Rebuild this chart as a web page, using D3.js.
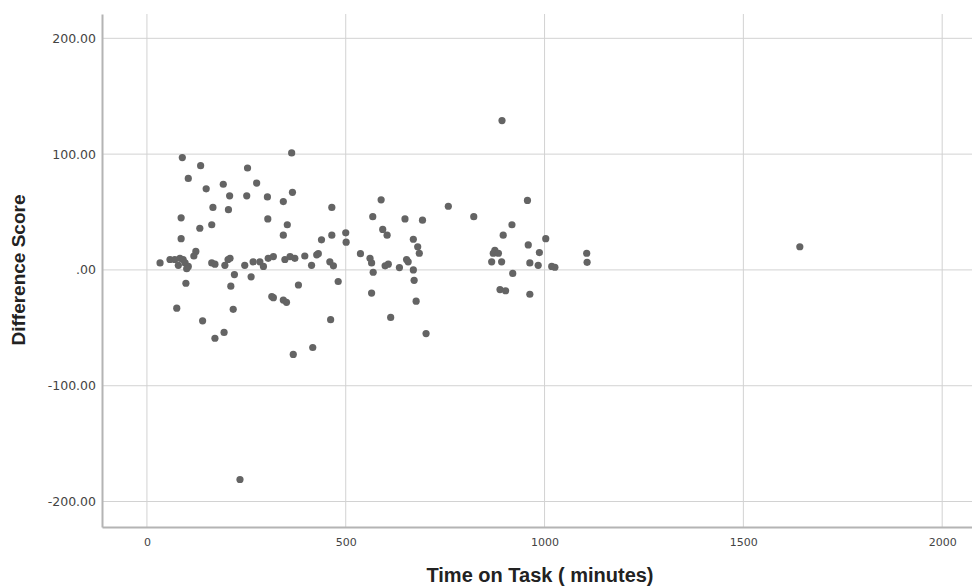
<!DOCTYPE html>
<html>
<head>
<meta charset="utf-8">
<script src="https://cdn.jsdelivr.net/npm/d3@7"></script>
<style>
  body { margin: 0; background: #fff; }
  svg { display: block; font-family: "Liberation Sans", Arial, sans-serif; }
</style>
</head>
<body>
<svg id="chart" width="972" height="586"></svg>
<script>
// time on task (minutes) and difference score
var minutes = [
  89, 364, 135, 253, 104, 192, 276, 149, 366, 208, 251, 303, 343, 166, 205, 465, 86, 304, 163, 353,
  133, 343, 86, 439, 465, 500, 501, 123, 118,
  33, 58, 70, 83, 91, 96, 104, 100, 79, 98, 163, 171, 196, 204, 209, 220, 211, 246, 262, 267, 284,
  293, 305, 318, 314, 347, 360, 372, 397, 414, 427, 431, 460, 469, 381, 481, 537, 561, 565, 569, 599,
  607, 565,
  75, 318, 343, 351, 217, 140, 462, 194, 171, 417, 368, 234,
  589, 568, 649, 693, 758, 822, 593, 604, 670, 681, 685, 635, 653, 657, 670, 672, 677, 613, 702,
  875, 871, 884, 867, 892, 896, 918, 920, 957, 959, 987, 1003, 963, 984, 1018, 1026, 888, 902, 963,
  893, 1106, 1107, 1642
];
var scores = [
  97, 101, 90, 88, 79, 74, 75, 70, 67, 64, 64, 63, 59, 54, 52, 54, 45, 44, 39, 39,
  36, 30, 27, 26, 30, 32, 24, 16, 12,
  6, 9, 9, 10, 9, 6, 3, 1, 4, -11.5, 6, 5, 4, 9, 10, -4, -14, 4, -6, 7, 7,
  3, 10, 11.5, -23, 9, 11.5, 10, 12, 4, 13, 14, 7, 3.5, -13, -10, 14, 10, 6, -2, 3.5,
  5, -20,
  -33, -24, -26, -28, -34, -44, -43, -54, -59, -67, -73, -181,
  60.5, 46, 44, 43, 55, 46, 35, 30, 26.5, 20, 14.4, 2, 9, 7, 0, -9, -27, -41, -55,
  17, 14.4, 14.4, 7, 7, 30, 39, -3, 60, 21.6, 15, 27, 6, 4, 3, 2.3, -17, -18, -21,
  129, 14.4, 6.6, 20
];
var xTicks = [0, 500, 1000, 1500, 2000];
var yTicks = [200, 100, 0, -100, -200];
var yTickLabels = ["200.00", "100.00", ".00", "-100.00", "-200.00"];

var points = minutes.map(function(m, i) { return { x: m, y: scores[i] }; });

var svg = d3.select("#chart");
var plotLeft = 102, plotRight = 972, plotTop = 14, plotBottom = 527;

var x = d3.scaleLinear().domain([-113, 2075]).range([plotLeft, plotRight]);
var y = d3.scaleLinear().domain([-222, 221]).range([plotBottom, plotTop]);

// gridlines
svg.append("g").selectAll("line.vg")
  .data(xTicks)
  .enter().append("line")
  .attr("class", "vg")
  .attr("x1", function(d) { return x(d); })
  .attr("x2", function(d) { return x(d); })
  .attr("y1", plotTop)
  .attr("y2", plotBottom)
  .attr("stroke", "#d2d2d2")
  .attr("stroke-width", 1);

svg.append("g").selectAll("line.hg")
  .data(yTicks)
  .enter().append("line")
  .attr("class", "hg")
  .attr("x1", plotLeft)
  .attr("x2", plotRight)
  .attr("y1", function(d) { return y(d); })
  .attr("y2", function(d) { return y(d); })
  .attr("stroke", "#d2d2d2")
  .attr("stroke-width", 1);

// axes
var xAxis = d3.axisBottom(x).tickValues(xTicks).tickSize(0).tickPadding(11).tickFormat(d3.format("d"));
var yAxis = d3.axisLeft(y).tickValues(yTicks).tickSize(0).tickPadding(6)
  .tickFormat(function(d, i) { return yTickLabels[i]; });

var gx = svg.append("g").attr("transform", "translate(0," + plotBottom + ")").call(xAxis);
var gy = svg.append("g").attr("transform", "translate(" + plotLeft + ",0)").call(yAxis);

gx.select(".domain").attr("stroke", "#b4b4b4").attr("stroke-width", 2);
gy.select(".domain").attr("stroke", "#b4b4b4").attr("stroke-width", 2);
gx.selectAll(".tick text").attr("fill", "#444")
  .style("font-family", "'DejaVu Sans', sans-serif").style("font-size", "11px");
gy.selectAll(".tick text").attr("fill", "#444")
  .style("font-family", "'DejaVu Sans', sans-serif").style("font-size", "12.5px");

// points
svg.append("g").selectAll("circle")
  .data(points)
  .enter().append("circle")
  .attr("cx", function(d) { return x(d.x); })
  .attr("cy", function(d) { return y(d.y); })
  .attr("r", 3.6)
  .attr("fill", "#646464");

// titles
svg.append("text")
  .attr("x", 540)
  .attr("y", 582)
  .attr("text-anchor", "middle")
  .style("font-size", "20px")
  .style("font-weight", "bold")
  .attr("fill", "#222")
  .text("Time on Task ( minutes)");

svg.append("text")
  .attr("transform", "translate(25,270) rotate(-90)")
  .attr("text-anchor", "middle")
  .style("font-size", "19px")
  .style("font-weight", "bold")
  .attr("fill", "#222")
  .text("Difference Score");
</script>
</body>
</html>
